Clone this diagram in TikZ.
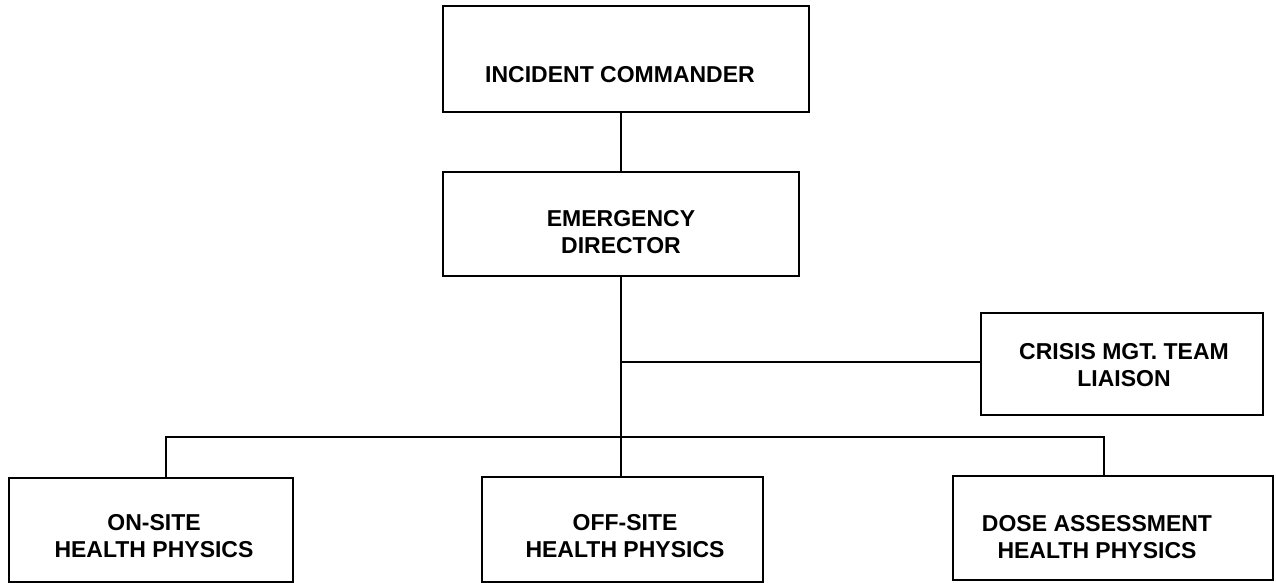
\documentclass[tikz,border=0pt]{standalone}
\usepackage{fontspec}
\setmainfont{Liberation Sans}
\begin{document}
\begin{tikzpicture}[x=1pt,y=-1pt,
  box/.style={draw, line width=2pt, rectangle, inner sep=0pt},
  lbl/.style={align=center, inner sep=0pt, font=\fontsize{23}{27}\selectfont\bfseries},
  conn/.style={line width=2pt}]
\useasboundingbox (0,0) rectangle (1276,583);
% boxes
\node[box, minimum width=366pt, minimum height=106pt] (ic) at (626,59) {};
\node[box, minimum width=356pt, minimum height=104pt] (ed) at (621,224) {};
\node[box, minimum width=282pt, minimum height=102pt] (cr) at (1122,364) {};
\node[box, minimum width=284pt, minimum height=104pt] (on) at (151,530) {};
\node[box, minimum width=281pt, minimum height=105pt] (off) at (622,529.5) {};
\node[box, minimum width=320pt, minimum height=104pt] (dose) at (1113,528) {};
% labels
\node[lbl] (ict) at (620,75) {INCIDENT COMMANDER};
\node[lbl] (edt) at (621,232) {EMERGENCY\\DIRECTOR};
\node[lbl] (crt) at (1124,365) {CRISIS MGT. TEAM\\LIAISON};
\node[lbl] (ont) at (154,536.5) {ON-SITE\\HEALTH PHYSICS};
\node[lbl] (offt) at (625,536.5) {OFF-SITE\\HEALTH PHYSICS};
\node[lbl] (doset) at (1097,537.5) {DOSE ASSESSMENT\\HEALTH PHYSICS};
% junction coordinates
\coordinate (jcr) at (621,362);
\coordinate (jbar) at (621,437);
\coordinate (jon) at (166,437);
\coordinate (jdose) at (1104,437);
% connectors
\draw[conn] (ed.north) -- (ed.north |- ic.south);
\draw[conn] (ed.south) -- (ed.south |- off.north);
\draw[conn] (jcr) -- (jcr -| cr.west);
\draw[conn] (jbar) -- (jon) -- (jon |- on.north);
\draw[conn] (jbar) -- (jdose) -- (jdose |- dose.north);
\end{tikzpicture}
\end{document}
